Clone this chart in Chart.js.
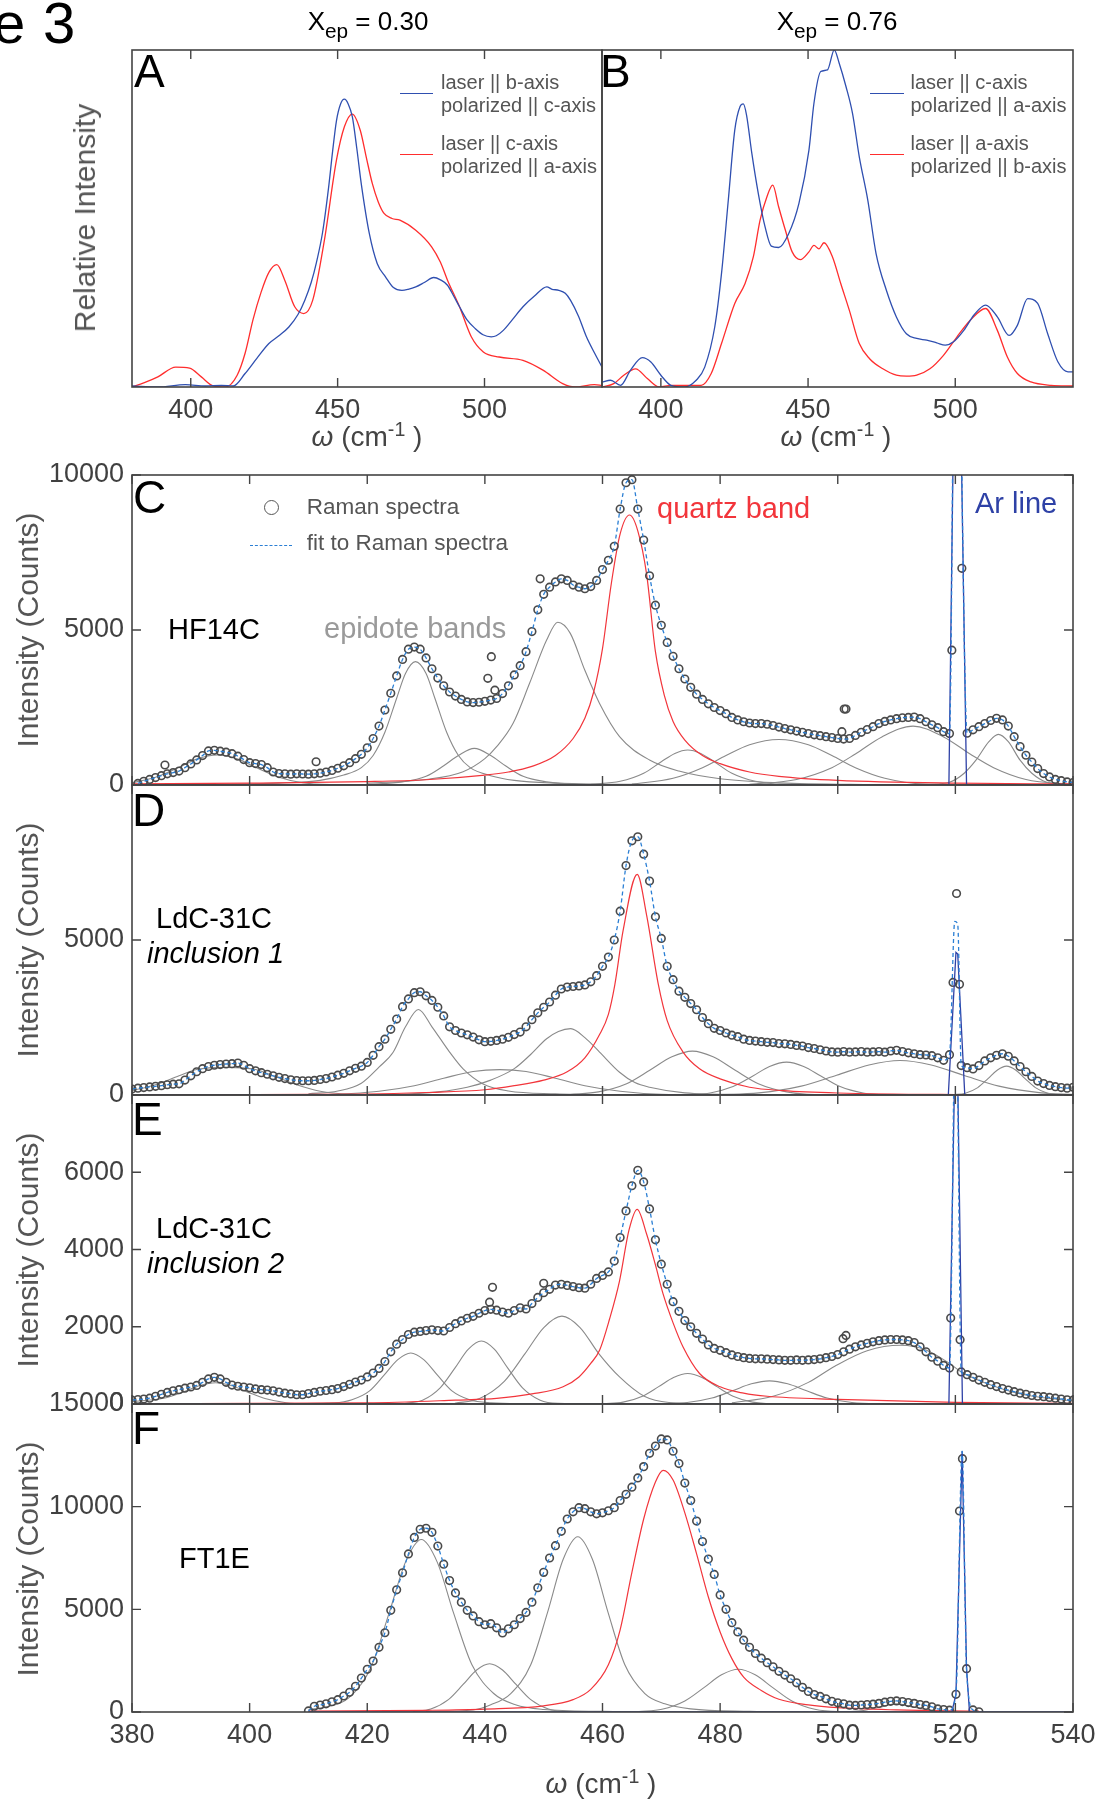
<!DOCTYPE html>
<html>
<head>
<meta charset="utf-8">
<script src="https://cdn.jsdelivr.net/npm/chart.js@4.4.1/dist/chart.umd.min.js"></script>
<style>
  body { margin: 0; background: #fff; }
  #page { position: relative; width: 1107px; height: 1805px; overflow: hidden;
          font-family: "Liberation Sans", Arial, Helvetica, sans-serif; }
  #page canvas { position: absolute; }
  .t { position: absolute; white-space: nowrap; line-height: 1; }
</style>
</head>
<body>
<div id="page"></div>
<script>
// ---------- panel A / B : polarized spectra (relative intensity) ----------
const abTicks = [400, 450, 500];

const aBlue = [[380,0.003],[388.8,0],[398.2,0.007],[405,0.003],[410.4,0.005],[414.5,0.003],[418.5,0.04],[422.5,0.085],[426.6,0.129],[430,0.152],[433.4,0.178],[436.5,0.215],[438.8,0.257],[441,0.31],[442.8,0.37],[444.9,0.46],[446.9,0.59],[448.3,0.7],[449.6,0.79],[451,0.84],[452.3,0.854],[453.6,0.84],[455,0.802],[456.5,0.71],[458.1,0.6],[460.8,0.455],[463.5,0.366],[466.3,0.327],[469,0.295],[471.9,0.287],[474,0.29],[476.6,0.297],[479.5,0.31],[482.7,0.325],[485,0.318],[487.4,0.302],[489.5,0.27],[491.5,0.238],[494,0.2],[496.9,0.173],[499.5,0.155],[502.3,0.149],[504,0.152],[506.4,0.168],[509.5,0.2],[513.1,0.238],[517,0.27],[521.2,0.297],[523,0.29],[525.3,0.287],[527.5,0.278],[529.3,0.257],[532,0.21],[534.7,0.149],[537.5,0.1],[540,0.059]];
const aRed = [[380,0],[384,0.012],[388.8,0.03],[394.9,0.059],[399.6,0.056],[403.6,0.03],[407.7,0.003],[411.8,0],[415.8,0.035],[418.5,0.1],[421.2,0.2],[423.9,0.28],[426.6,0.34],[429.3,0.363],[432,0.317],[435.4,0.238],[438.5,0.218],[441.5,0.257],[445.5,0.436],[449.6,0.673],[452.3,0.772],[455,0.81],[457.7,0.762],[459.8,0.68],[461.8,0.604],[463.8,0.55],[465.8,0.515],[468.5,0.5],[471.2,0.495],[476.6,0.465],[482,0.416],[485,0.37],[487.4,0.317],[491.5,0.238],[495.5,0.149],[499.6,0.104],[505,0.089],[513.1,0.079],[519.9,0.05],[526.6,0.01],[530.7,0],[537.4,0.007],[540,0.005]];

const bBlue = [[380,0.015],[382.9,0.02],[386.3,0.005],[389.7,0.05],[393.7,0.087],[396.6,0.074],[400,0.035],[403.4,0.005],[408,0],[412,0.02],[414.9,0.059],[418.3,0.178],[420.6,0.337],[422.9,0.554],[425.1,0.762],[426.9,0.832],[428,0.84],[429.1,0.807],[430.9,0.693],[433.1,0.574],[435.4,0.475],[437.5,0.418],[440,0.414],[443.4,0.455],[446.9,0.545],[450.3,0.703],[452,0.842],[454.3,0.936],[456.6,0.941],[458.9,1.0],[460.6,0.96],[462.9,0.891],[465.1,0.812],[467.4,0.683],[470.3,0.554],[473.1,0.396],[476.6,0.287],[480,0.208],[483.4,0.158],[486.9,0.144],[490.3,0.139],[493.7,0.131],[496.6,0.124],[499.4,0.134],[502.9,0.168],[506.3,0.213],[510.3,0.243],[514.3,0.208],[518.3,0.153],[521.1,0.183],[524.6,0.262],[528,0.248],[531.4,0.158],[534.9,0.074],[538.3,0.045],[540,0.045]];
const bRed = [[380,0],[384,0.01],[387.4,0.035],[391.4,0.054],[395.4,0.025],[399.4,0],[403.4,0.005],[408,0.005],[413.7,0.005],[417.1,0.04],[420.6,0.129],[425.1,0.248],[428.6,0.307],[431.4,0.386],[433.7,0.495],[436,0.564],[438,0.599],[440,0.535],[442.3,0.465],[444.6,0.401],[447.4,0.378],[450.3,0.401],[452,0.42],[453.7,0.41],[455.4,0.428],[458.3,0.386],[461.1,0.307],[464,0.228],[467.4,0.129],[470.9,0.084],[475.4,0.054],[480,0.035],[483.4,0.032],[486.9,0.035],[491.4,0.054],[496,0.094],[500.6,0.149],[505.1,0.198],[510.3,0.233],[514.3,0.168],[517.7,0.089],[521.1,0.04],[525.7,0.015],[532.6,0.005],[540,0.003]];

// ---------- panels C-F : Raman spectra with fitted bands ----------
const lowerXTicks = [380, 400, 420, 440, 460, 480, 500, 520, 540];

// C  HF14C  (counts, one value per cm-1 from 381)
const cStart = 381;
const cCounts = [50,120,180,240,300,360,400,450,560,680,
  810,950,1100,1120,1090,1060,1010,930,820,720,
  690,660,560,420,370,360,350,360,355,350,
  360,380,420,470,540,620,720,850,990,1200,
  1500,1900,2420,2960,3520,4050,4380,4450,4380,4100,
  3750,3450,3200,3000,2870,2760,2680,2660,2670,2700,
  2740,2790,2950,3200,3550,3850,4300,4950,5650,6150,
  6380,6550,6650,6600,6450,6380,6330,6400,6600,6950,
  7250,7700,8900,9750,9850,8900,7900,6750,5800,5150,
  4600,4150,3750,3420,3150,2930,2760,2620,2500,2400,
  2300,2180,2100,2040,2000,1980,1980,1960,1920,1870,
  1820,1780,1740,1700,1660,1620,1590,1560,1530,1500,
  1480,1500,1600,1700,1790,1880,1980,2050,2100,2140,
  2170,2180,2190,2140,2040,1940,1850,1720,1660,null,
  null,1670,1780,1880,1980,2080,2150,2100,1900,1560,
  1240,960,740,530,370,260,180,140,100,80];
const cExtra = [[385.6,645],[411.3,750],[440.5,3440],[441.1,4140],[441.7,3060],[449.4,6650],[500.7,1720],[501.1,2450],[501.4,2450],[519.4,4350],[521.1,6990]];
const cFitAr = [[520.1,20000]];
const cArLine = [[380,0],[518.9,0],[520.25,20000],[521.9,0],[540,0]];
const cQuartz = [[380,40],[400,60],[420,110],[430,170],[440,320],[444,420],[448,600],[452,950],[455,1500],[457,2150],[458.5,3000],[460,4400],[461.5,6500],[463,8100],[464.6,8710],[466,8200],[467.5,6800],[469,4300],[470.5,2900],[472,2050],[474,1450],[477,950],[480,690],[485,420],[490,280],[500,150],[520,60],[540,35]];
const cEpidote = [
  [[380,70],[384,250],[388,570],[391,835],[394.5,970],[398,835],[401,570],[405,250],[409,70],[414,10],[420,0]],
  [[395,20],[405,60],[412,150],[416,320],[419,560],[421,950],[423,1700],[425,2800],[426.5,3600],[428.2,3980],[430,3600],[431.5,2800],[433.5,1700],[435.5,950],[437.5,560],[441,300],[445,150],[452,60],[465,20],[480,0]],
  [[420,20],[426,100],[430,280],[433,620],[435.5,950],[438.2,1180],[441,950],[443.5,620],[446.5,280],[450.5,100],[456,20],[465,0]],
  [[420,60],[430,180],[436.3,430],[440,850],[442,1235],[444.8,1990],[447.6,3280],[450.5,4675],[452.4,5250],[454.5,4900],[457,3700],[459.5,2630],[462.9,1560],[468,806],[473,450],[480,200],[490,70],[505,15],[520,0]],
  [[458,20],[463,120],[467,380],[470,750],[472.3,1020],[474.5,1130],[476.7,1020],[479,750],[482,380],[486,120],[491,20],[500,0]],
  [[465,30],[472,220],[477,560],[481,950],[485,1300],[490,1470],[495,1300],[499,950],[503,560],[508,220],[515,30],[525,0]],
  [[485,20],[493,180],[499,560],[503,1000],[507.5,1550],[512.8,1900],[518,1550],[522.5,1000],[526.5,560],[532,180],[540,20]],
  [[515,10],[519,90],[521.5,380],[523.5,800],[525.7,1400],[527.3,1634],[529,1400],[531,800],[533,380],[535.5,90],[539,10]]
];

// D  LdC-31C inclusion 1
const dStart = 380;
const dCounts = [190,220,240,260,280,300,330,350,360,480,
  620,750,850,920,960,980,1000,1010,1030,960,
  850,780,720,670,620,570,530,490,465,460,
  460,470,500,530,580,640,700,780,860,930,
  1050,1280,1560,1800,2120,2450,2850,3100,3300,3330,
  3200,3050,2830,2550,2200,2080,2000,1940,1870,1780,
  1720,1730,1760,1800,1860,1950,2030,2200,2430,2650,
  2830,3000,3220,3420,3480,3500,3520,3550,3650,3850,
  4150,4450,5000,5930,7400,8200,8330,7770,6900,5750,
  5050,4150,3720,3350,3150,2950,2750,2500,2300,2150,
  2080,2000,1930,1880,1800,1760,1740,1720,1700,1690,
  1660,1650,1630,1600,1580,1530,1500,1460,1420,1390,
  1380,1400,1380,1390,1400,1380,1390,1400,1380,1420,
  1440,1400,1360,1330,1300,1290,1270,1200,1120,1300,
  null,950,880,840,950,1100,1200,1280,1330,1250,
  1100,920,750,600,450,370,310,270,240,220,
  250];
const dExtra = [[519.6,3630],[520.2,6500],[520.7,3570]];
const dFitAr = [[519.9,5600],[520.4,5500]];
const dArLine = [[380,0],[518.8,0],[520.1,4600],[520.4,4550],[521.6,0],[540,0]];
const dQuartz = [[380,0],[420,30],[430,80],[440,170],[445,300],[450,480],[454,750],[457,1200],[459.5,1950],[461,2600],[462.1,3560],[463.5,5300],[465.9,7120],[467.5,5800],[469.5,3560],[471,2400],[473.7,1385],[476.5,845],[480,520],[485,250],[490.7,140],[500,65],[520,15],[540,5]];
const dEpidote = [
  [[380,140],[384,330],[388,620],[391,820],[396,890],[401,820],[404,620],[408,330],[412,120],[417,25],[425,0]],
  [[410,40],[415,130],[419,380],[422,900],[424.4,1380],[426.5,2200],[428.7,2760],[431,2200],[434,1385],[436.3,844],[439.7,357],[444,130],[452,40],[465,0]],
  [[415,20],[422,120],[428,300],[433,540],[438,760],[442.5,820],[447,760],[452,540],[457,300],[463,120],[470,20],[480,0]],
  [[425,20],[432,100],[437,250],[441,480],[445,850],[447.6,1275],[450.5,1815],[452.5,2050],[454.6,2140],[457,1850],[459.5,1385],[462.9,735],[465.5,400],[468,250],[474,70],[485,10],[495,0]],
  [[454.5,13],[459.3,100],[464.1,364],[468.1,806],[471.8,1231],[475.3,1415],[478.8,1231],[482.5,806],[486.5,364],[491.3,100],[496.1,13],[505,0]],
  [[474.4,10],[478.3,66],[482.2,272],[485.5,604],[488.4,922],[491.3,1060],[494.2,922],[497.2,604],[500.4,272],[504.3,66],[508.2,10],[515,0]],
  [[479.4,10],[486.6,70],[493.8,287],[499.8,636],[505.3,970],[510.6,1115],[515.9,970],[521.4,636],[527.4,287],[534.6,70],[540,20]],
  [[519.6,8],[521.7,58],[523.8,239],[525.55,530],[527.16,809],[528.7,930],[530.24,809],[531.85,530],[533.6,239],[535.7,58],[537.8,8],[540,0]]
];

// E  LdC-31C inclusion 2
const eStart = 380;
const eCounts = [100,115,130,150,200,250,300,340,370,410,
  440,480,560,650,690,650,560,490,460,440,
  420,390,370,360,340,310,280,260,240,240,
  270,300,330,350,370,400,450,510,570,620,
  700,800,920,1100,1350,1550,1670,1800,1860,1880,
  1900,1920,1900,1890,1980,2080,2150,2220,2270,2350,
  2420,2450,2430,2380,2350,2420,2490,2460,2600,2760,
  2880,2970,3080,3100,3070,3040,3010,3000,3100,3250,
  3330,3420,3700,4310,5000,5650,6050,5750,5050,4250,
  3620,3100,2650,2400,2160,2000,1830,1680,1530,1440,
  1390,1330,1270,1230,1200,1180,1170,1170,1160,1150,
  1140,1130,1130,1140,1130,1140,1150,1170,1200,1230,
  1280,1350,1420,1480,1530,1570,1610,1640,1660,1670,
  1670,1660,1640,1590,1480,1350,1210,1110,1000,930,
  null,830,760,690,620,560,500,450,400,360,
  320,280,250,220,200,190,170,150,130,110,
  100];
const eExtra = [[440.8,2635],[441.3,3020],[450,3125],[500.9,1690],[501.4,1775],[519.2,2225],[520.8,1665]];
const eFitAr = [[520.1,11000]];
const eArLine = [[380,0],[518.9,0],[520.15,11000],[521.2,0],[540,0]];
const eQuartz = [[380,5],[420,30],[435,100],[442,145],[448,260],[453.3,445],[456,700],[458,1050],[459.5,1390],[461.2,2200],[462.9,3190],[464.5,4500],[465.9,5040],[467.5,4400],[469,3600],[470.3,2850],[472,2100],[473.7,1475],[476.5,790],[480,445],[484,280],[488,200],[500,120],[520,40],[540,15]];
const eEpidote = [
  [[380,60],[382.2,90],[385.8,160],[388.8,314],[391.56,478],[394.2,550],[396.84,478],[399.6,314],[402.6,141],[406.2,34],[409.8,5],[415,0]],
  [[408,10],[414.4,30],[417.4,110],[420.4,339],[422.9,752],[425.2,1148],[427.4,1320],[429.6,1148],[431.9,752],[434.4,339],[437.4,110],[441,30],[448,0]],
  [[426.4,15],[429.4,100],[432.4,420],[434.9,930],[437.2,1420],[439.4,1630],[441.6,1420],[443.9,930],[446.4,420],[449.4,100],[452.4,15],[460,0]],
  [[434.9,20],[439.1,142],[443.3,585],[446.8,1297],[450.02,1980],[453.1,2275],[456.18,1980],[459.4,1297],[462.9,700],[467.1,200],[471.3,40],[480,0]],
  [[460.2,7],[463.5,49],[466.8,203],[469.55,450],[472.08,687],[474.5,790],[476.92,687],[479.45,450],[482.2,203],[485.5,49],[488.8,7],[495,0]],
  [[470.2,5],[474.4,37],[478.6,154],[482.1,342],[485.32,522],[488.4,600],[491.48,522],[494.7,342],[498.2,154],[502.4,37],[506.6,5],[515,0]],
  [[482,30],[489,200],[495,560],[499.5,980],[505,1380],[510.7,1520],[515,1400],[519,1050],[521.3,800],[525,550],[530,300],[535,160],[540,80]]
];

// F  FT1E
const fStart = 410;
const fCounts = [50,280,340,400,500,600,780,960,1250,1650,
  2080,2480,3150,3860,4950,5950,6780,7700,8500,8900,
  8950,8750,8080,7200,6400,5800,5350,4950,4680,4400,
  4250,4300,4100,3850,4050,4250,4550,4850,5350,6050,
  6800,7500,8100,8800,9400,9750,9950,9900,9750,9650,
  9700,9800,9950,10300,10600,10950,11400,11950,12600,12950,
  13300,13250,12700,12100,11150,10300,9300,8300,7450,6700,
  5700,5000,4350,3900,3500,3150,2850,2620,2400,2200,
  1980,1800,1620,1420,1200,1000,850,760,640,520,
  450,400,330,320,340,360,380,420,480,520,
  540,510,460,420,360,320,250,150,120,90,
  null,null,null,100,10];
const fExtra = [[520.1,860],[520.7,9790],[521.2,12335],[521.9,2110]];
const fFitAr = [[520.1,900],[521.15,12700],[521.9,2100]];
const fArLine = [[410,0],[519.4,0],[520.1,860],[521.15,12700],[521.9,2110],[522.4,0],[540,0]];
const fQuartz = [[410,40],[430,80],[440,140],[450,300],[455,600],[458,1100],[461,2300],[463,4000],[465,6800],[467,9400],[469,11200],[470.3,11770],[472,11300],[474,9700],[476,7700],[478,5600],[480,3900],[482,2600],[484,1700],[487,1050],[490,620],[495,350],[500,210],[510,100],[524,40]];
const fEpidote = [
  [[410,120],[413.2,250],[416.9,700],[420.6,2160],[423.7,4800],[426.5,7300],[429.2,8400],[431.9,7300],[434.7,4800],[437.8,2300],[441.5,900],[445.2,350],[450,120],[460,30],[475,0]],
  [[427.8,20],[430.8,147],[433.8,604],[436.3,1340],[438.6,2045],[440.8,2350],[443,2045],[445.3,1340],[447.8,604],[450.8,147],[453.8,20],[460,0]],
  [[430,20],[438,100],[441,350],[444.4,900],[447.8,2300],[450.67,4865],[453.3,7425],[455.8,8535],[458.3,7425],[460.93,4865],[463.8,2300],[467.2,900],[470.6,400],[475,150],[485,30],[495,0]],
  [[466.2,19],[470.1,130],[474,535],[477.25,1186],[480.24,1810],[483.1,2080],[485.96,1810],[488.95,1186],[492.2,535],[496.1,130],[500,19],[510,0]],
  [[500,0],[504,60],[507,230],[510,400],[513,230],[516,60],[520,0]]
];

// ---------- drawing ----------
const FONT = '"Liberation Sans", Arial, Helvetica, sans-serif';
Chart.defaults.font.family = FONT;
const TICK = '#404040';
const GRAY = '#8a8a8a';
const RED = '#f2353b';
const AR = '#2e41a6';
const FIT = '#2b7fd4';
const page = document.getElementById('page');

// box, inner tick marks
const framePlugin = {
  id: 'frame',
  afterDatasetsDraw(chart, args, opts) {
    const { ctx, chartArea: a, scales } = chart;
    ctx.save();
    ctx.strokeStyle = '#444';
    ctx.lineWidth = 1.6;
    ctx.strokeRect(a.left, a.top, a.right - a.left, a.bottom - a.top);
    ctx.lineWidth = 1.4;
    ctx.beginPath();
    (opts.xTicks || []).forEach(v => {
      const px = scales.x.getPixelForValue(v);
      ctx.moveTo(px, a.bottom); ctx.lineTo(px, a.bottom - 9);
      ctx.moveTo(px, a.top); ctx.lineTo(px, a.top + 9);
    });
    (opts.yTicks || []).forEach(v => {
      const py = scales.y.getPixelForValue(v);
      ctx.moveTo(a.left, py); ctx.lineTo(a.left + 9, py);
      ctx.moveTo(a.right, py); ctx.lineTo(a.right - 9, py);
    });
    ctx.stroke();
    ctx.restore();
  }
};

function addCanvas(left, top, w, h) {
  const c = document.createElement('canvas');
  c.width = w; c.height = h;
  c.style.left = left + 'px'; c.style.top = top + 'px';
  page.appendChild(c);
  return c;
}

function lineSet(points, color, width, order, extra) {
  return Object.assign({
    data: points.map(p => ({ x: p[0], y: p[1] })),
    showLine: true, pointRadius: 0, borderColor: color, borderWidth: width,
    fill: false, order: order, cubicInterpolationMode: 'monotone'
  }, extra || {});
}

function gridPoints(start, values) {
  const pts = [];
  values.forEach((v, i) => { if (v !== null) pts.push([start + i, v]); });
  return pts;
}

function xAxis(ticks, show, height, fontSize) {
  return {
    type: 'linear', min: 380, max: 540, display: show,
    afterBuildTicks: s => { s.ticks = ticks.map(v => ({ value: v })); },
    afterFit: s => { s.height = height; },
    ticks: { callback: v => String(v), font: { size: fontSize }, color: TICK, padding: 7, maxRotation: 0, autoSkip: false },
    grid: { display: false, drawTicks: false },
    border: { display: false }
  };
}

// top panels
function topPanel(left, w, padLeft, padRight, blue, red) {
  const c = addCanvas(left, 0, w, 470);
  new Chart(c, {
    type: 'scatter',
    data: { datasets: [lineSet(red, '#ff2d2d', 1.3, 2), lineSet(blue, '#2f4fb0', 1.3, 1)] },
    options: {
      responsive: false, animation: false, events: [],
      layout: { autoPadding: false, padding: { left: padLeft, right: padRight, top: 50, bottom: 0 } },
      plugins: { legend: { display: false }, tooltip: { enabled: false }, frame: { xTicks: abTicks, yTicks: [] } },
      scales: {
        x: xAxis(abTicks, true, 83, 27),
        y: { type: 'linear', min: 0, max: 1, display: false }
      }
    },
    plugins: [framePlugin]
  });
}
topPanel(0, 620, 132, 18, aBlue, aRed);
topPanel(580, 527, 22, 34, bBlue, bRed);

// lower panels
function lowerPanel(p) {
  const showX = !!p.showX;
  const xH = showX ? 60 : 0;
  const canvasTop = p.top - 30;
  const h = p.bottom - canvasTop + (showX ? xH : 25);
  const c = addCanvas(0, canvasTop, 1107, h);
  const data = gridPoints(p.start, p.counts);
  const circles = data.concat(p.extra);
  const fit = data.concat(p.fitAr).sort((a, b) => a[0] - b[0]);
  const datasets = p.epidote.map(e => lineSet(e, GRAY, 1.1, 5));
  datasets.push(lineSet(p.quartz, RED, 1.2, 4));
  datasets.push({
    data: circles.map(q => ({ x: q[0], y: q[1] })),
    showLine: false, pointRadius: 3.8, pointBorderWidth: 1.6,
    pointBorderColor: '#4a4a4a', pointBackgroundColor: 'rgba(0,0,0,0)', order: 3
  });
  datasets.push(lineSet(p.arLine, AR, 1.3, 2, { cubicInterpolationMode: 'default', tension: 0 }));
  datasets.push(lineSet(fit, FIT, 1.3, 1, { borderDash: [4, 3] }));

  new Chart(c, {
    type: 'scatter',
    data: { datasets },
    options: {
      responsive: false, animation: false, events: [],
      layout: { autoPadding: false, padding: { left: 0, right: 34, top: 30, bottom: showX ? 0 : 25 } },
      plugins: { legend: { display: false }, tooltip: { enabled: false }, frame: { xTicks: lowerXTicks, yTicks: p.yTicks } },
      scales: {
        x: xAxis(lowerXTicks, showX, xH, 27),
        y: {
          type: 'linear', min: 0, max: p.yMax,
          afterBuildTicks: s => { s.ticks = p.yTicks.map(v => ({ value: v })); },
          afterFit: s => { s.width = 132; },
          ticks: { callback: v => String(v), font: { size: 27 }, color: TICK, padding: 8, autoSkip: false },
          grid: { display: false, drawTicks: false },
          border: { display: false }
        }
      }
    },
    plugins: [framePlugin]
  });
}

lowerPanel({ top: 475, bottom: 785, yMax: 10000, yTicks: [0, 5000, 10000], start: cStart, counts: cCounts, extra: cExtra, fitAr: cFitAr, arLine: cArLine, quartz: cQuartz, epidote: cEpidote });
lowerPanel({ top: 785, bottom: 1095, yMax: 10000, yTicks: [0, 5000], start: dStart, counts: dCounts, extra: dExtra, fitAr: dFitAr, arLine: dArLine, quartz: dQuartz, epidote: dEpidote });
lowerPanel({ top: 1095, bottom: 1404, yMax: 8000, yTicks: [0, 2000, 4000, 6000], start: eStart, counts: eCounts, extra: eExtra, fitAr: eFitAr, arLine: eArLine, quartz: eQuartz, epidote: eEpidote });
lowerPanel({ top: 1404, bottom: 1712, yMax: 15000, yTicks: [0, 5000, 10000, 15000], start: fStart, counts: fCounts, extra: fExtra, fitAr: fFitAr, arLine: fArLine, quartz: fQuartz, epidote: fEpidote, showX: true });

// ---------- text ----------
function txt(html, x, base, size, o) {
  o = o || {};
  const d = document.createElement('div');
  d.className = 't';
  d.innerHTML = html;
  d.style.fontSize = size + 'px';
  d.style.left = x + 'px';
  d.style.top = (base - 0.8465 * size) + 'px';
  if (o.center) d.style.transform = 'translateX(-50%)';
  d.style.color = o.color || '#000';
  if (o.italic) d.style.fontStyle = 'italic';
  page.appendChild(d);
  return d;
}
function vtxt(text, cx, cy, size, color) {
  const d = document.createElement('div');
  d.className = 't';
  d.textContent = text;
  d.style.fontSize = size + 'px';
  d.style.color = color;
  d.style.left = cx + 'px';
  d.style.top = cy + 'px';
  d.style.transform = 'translate(-50%, -50%) rotate(-90deg)';
  page.appendChild(d);
}
function hline(x1, x2, y, color, dashed) {
  const d = document.createElement('div');
  d.style.position = 'absolute';
  d.style.left = x1 + 'px';
  d.style.top = (y - 0.75) + 'px';
  d.style.width = (x2 - x1) + 'px';
  d.style.borderTop = '1.5px ' + (dashed ? 'dashed ' : 'solid ') + color;
  page.appendChild(d);
}

const sub = s => '<span style="font-size:0.8em;position:relative;top:0.38em">' + s + '</span>';
const sup = s => '<span style="font-size:0.7em;position:relative;top:-0.55em">' + s + '</span>';
const omega = '<i>\u03c9</i> (cm' + sup('-1') + ' )';

txt('e', -7, 43.5, 58);
txt('3', 43, 43.5, 58);
txt('X' + sub('ep') + ' = 0.30', 368, 30.5, 26, { center: true });
txt('X' + sub('ep') + ' = 0.76', 837, 30.5, 26, { center: true });
txt('A', 134, 87, 46);
txt('B', 600, 87, 46);
vtxt('Relative Intensity', 85, 218, 30, '#555');
txt(omega, 367, 447, 28, { center: true, color: '#444' });
txt(omega, 836, 447, 28, { center: true, color: '#444' });

const LG = '#555';
hline(400, 433, 93.5, '#2f4fb0');
txt('laser || b-axis', 441, 88.5, 20, { color: LG });
txt('polarized || c-axis', 441, 111.5, 20, { color: LG });
hline(400, 433, 154.5, '#ff2d2d');
txt('laser || c-axis', 441, 149.5, 20, { color: LG });
txt('polarized || a-axis', 441, 172.5, 20, { color: LG });
hline(870, 904, 93.5, '#2f4fb0');
txt('laser || c-axis', 910.5, 88.5, 20, { color: LG });
txt('polarized || a-axis', 910.5, 111.5, 20, { color: LG });
hline(870, 904, 154.5, '#ff2d2d');
txt('laser || a-axis', 910.5, 149.5, 20, { color: LG });
txt('polarized || b-axis', 910.5, 172.5, 20, { color: LG });

[630, 940, 1250, 1559].forEach(cy => vtxt('Intensity (Counts)', 28, cy, 30, '#555'));
txt('C', 133, 512.5, 46);
txt('D', 132, 825.5, 46);
txt('E', 132, 1135, 46);
txt('F', 132, 1444, 46);

const ring = document.createElement('div');
ring.style.cssText = 'position:absolute;left:263.7px;top:500px;width:13px;height:13px;border:1.6px solid #555;border-radius:50%;';
page.appendChild(ring);
txt('Raman spectra', 306.7, 515, 22.5, { color: LG });
hline(250, 292, 546, FIT, true);
txt('fit to Raman spectra', 306.7, 551.5, 22.5, { color: LG });

txt('HF14C', 168, 640, 29);
txt('epidote bands', 324, 639, 29, { color: '#9a9a9a' });
txt('quartz band', 657, 519, 29, { color: RED });
txt('Ar line', 975, 514, 29, { color: AR });
txt('LdC-31C', 156, 928.3, 29);
txt('inclusion 1', 147, 963.3, 29, { italic: true });
txt('LdC-31C', 156, 1238.3, 29);
txt('inclusion 2', 147, 1273.3, 29, { italic: true });
txt('FT1E', 179, 1569, 29);
txt(omega, 601, 1794, 28, { center: true, color: '#444' });
</script>
</body>
</html>
